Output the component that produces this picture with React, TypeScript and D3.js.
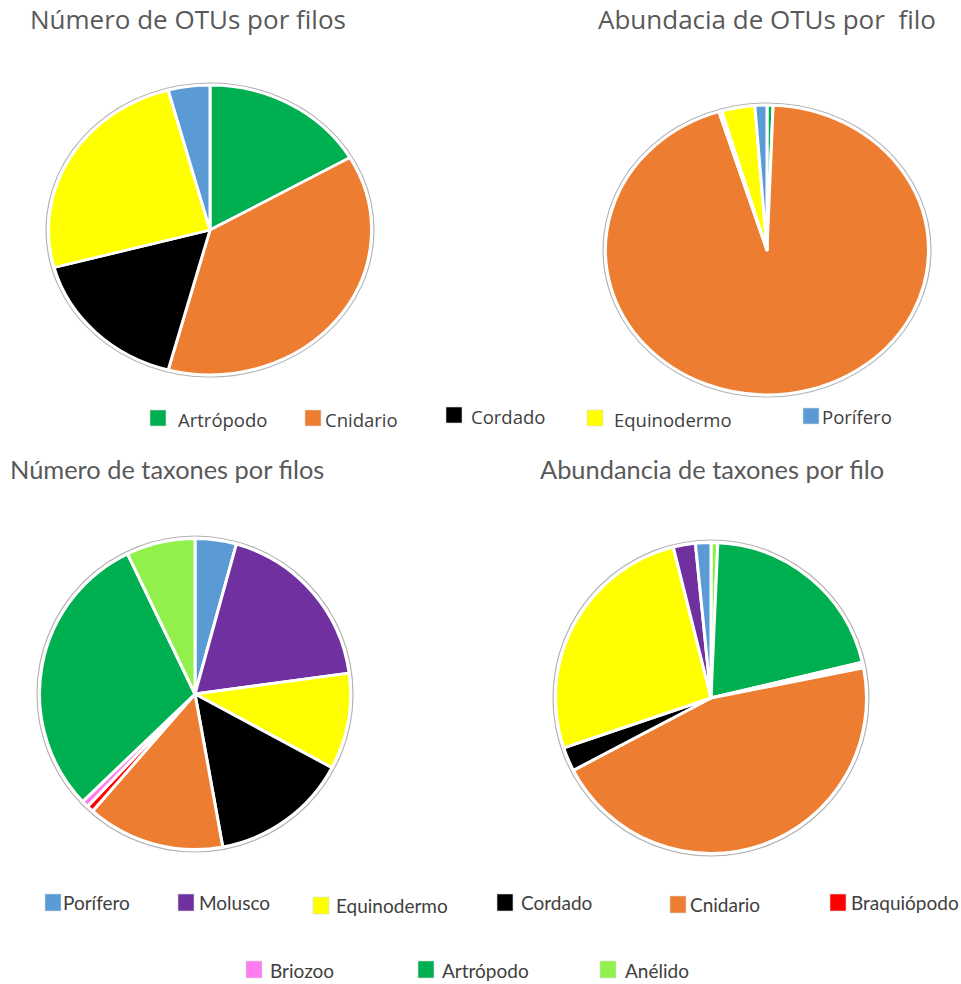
import React from "react";
import * as d3 from "d3";

// ---- data ----
const otuCategories = ["Artrópodo", "Cnidario", "Cordado", "Equinodermo", "Porífero"];
const otuCountValues = [4, 9, 4, 6, 1];
const otuAbundanceValues = [0.6, 94.4, 0.3, 3.3, 1.2];

const taxaCountCategories = ["Porífero", "Molusco", "Equinodermo", "Cordado", "Cnidario", "Braquiópodo", "Briozoo", "Artrópodo", "Anélido"];
const taxaCountValues = [6, 26, 14, 20, 20, 1, 1, 42, 10];

const taxaAbundanceCategories = ["Anélido", "Artrópodo", "Braquiópodo", "Briozoo", "Cnidario", "Cordado", "Equinodermo", "Molusco", "Porífero"];
const taxaAbundanceValues = [0.7, 20.6, 0.3, 0.3, 45.4, 2.5, 26.3, 2.3, 1.6];

const topLegendCategories = ["Artrópodo", "Cnidario", "Cordado", "Equinodermo", "Porífero"];
const bottomLegendCategories = ["Porífero", "Molusco", "Equinodermo", "Cordado", "Cnidario", "Braquiópodo", "Briozoo", "Artrópodo", "Anélido"];

const titles = [
  "Número de OTUs por filos",
  "Abundacia de OTUs por\u00a0 filo",
  "Número de taxones por filos",
  "Abundancia de taxones por filo",
];

const phylumColors: Record<string, string> = {
  "Artrópodo": "#00B050",
  "Cnidario": "#ED7D31",
  "Cordado": "#000000",
  "Equinodermo": "#FFFF00",
  "Porífero": "#5B9BD5",
  "Molusco": "#7030A0",
  "Braquiópodo": "#FF0000",
  "Briozoo": "#FF7BF0",
  "Anélido": "#92F04C",
};

// ---- layout ----
const W = 961;
const H = 984;

type PieSpec = { cats: string[]; vals: number[]; cx: number; cy: number; rx: number; ry: number };

const pies: PieSpec[] = [
  { cats: otuCategories, vals: otuCountValues, cx: 210, cy: 230, rx: 164, ry: 147 },
  { cats: otuCategories, vals: otuAbundanceValues, cx: 767, cy: 250, rx: 164, ry: 147 },
  { cats: taxaCountCategories, vals: taxaCountValues, cx: 195, cy: 694, rx: 158, ry: 158 },
  { cats: taxaAbundanceCategories, vals: taxaAbundanceValues, cx: 711, cy: 698, rx: 158, ry: 158 },
];

const titlePos = [
  { x: 30, y: 29, size: 26, font: "Open Sans" },
  { x: 598, y: 29, size: 26, font: "Open Sans" },
  { x: 10, y: 479, size: 25.4, font: "Lato" },
  { x: 540, y: 479, size: 25.4, font: "Lato" },
];

const topLegendPos = [
  { sx: 150, sy: 410, tx: 178, ty: 427 },
  { sx: 305, sy: 410, tx: 325, ty: 427 },
  { sx: 446, sy: 407, tx: 471, ty: 424 },
  { sx: 587, sy: 410, tx: 614, ty: 427 },
  { sx: 803, sy: 408, tx: 822, ty: 424 },
];

const bottomLegendPos = [
  { sx: 45, sy: 894, tx: 63, ty: 910 },
  { sx: 178, sy: 894, tx: 199, ty: 910 },
  { sx: 313, sy: 897, tx: 336, ty: 913 },
  { sx: 497, sy: 894, tx: 521, ty: 910 },
  { sx: 670, sy: 896, tx: 690, ty: 912 },
  { sx: 830, sy: 894, tx: 851, ty: 910 },
  { sx: 246, sy: 961, tx: 270, ty: 978 },
  { sx: 418, sy: 961, tx: 442, ty: 978 },
  { sx: 600, sy: 961, tx: 625, ty: 978 },
];

function Pie({ spec }: { spec: PieSpec }) {
  const data = spec.cats.map((c, i) => ({ cat: c, value: spec.vals[i] }));
  const arcs = d3.pie<{ cat: string; value: number }>().sort(null).value((d) => d.value)(data);
  const r = spec.rx;
  const arcGen = d3.arc<d3.PieArcDatum<{ cat: string; value: number }>>().innerRadius(0).outerRadius(r - 2.5);
  const sy = spec.ry / spec.rx;
  return (
    <g transform={`translate(${spec.cx},${spec.cy}) scale(1,${sy})`}>
      <circle r={r} fill="#fff" stroke="#b4b4b4" strokeWidth={1.2} />
      {arcs.map((a, i) => (
        <path key={i} d={arcGen(a) || ""} fill={phylumColors[a.data.cat]} stroke="#fff" strokeWidth={3} strokeLinejoin="round" />
      ))}
    </g>
  );
}

export default function App() {
  return (
    <svg width={W} height={H} style={{ position: "absolute", left: 0, top: 0, background: "#fff" }}>
      <rect width={W} height={H} fill="#fff" />
      {titles.map((t, i) => (
        <text key={i} x={titlePos[i].x} y={titlePos[i].y} fontFamily={titlePos[i].font} fontSize={titlePos[i].size} fill="#595959" style={{ whiteSpace: "pre" }}>
          {t}
        </text>
      ))}
      {pies.map((p, i) => (
        <Pie key={i} spec={p} />
      ))}
      {topLegendCategories.map((c, i) => (
        <g key={c}>
          <rect x={topLegendPos[i].sx} y={topLegendPos[i].sy} width={16} height={16} fill={phylumColors[c]} stroke="#d9d9d9" strokeWidth={0.6} />
          <text x={topLegendPos[i].tx} y={topLegendPos[i].ty} fontFamily="Open Sans" fontSize={18.5} fill="#404040">
            {c}
          </text>
        </g>
      ))}
      {bottomLegendCategories.map((c, i) => (
        <g key={c}>
          <rect x={bottomLegendPos[i].sx} y={bottomLegendPos[i].sy} width={16} height={17} fill={phylumColors[c]} stroke="#d9d9d9" strokeWidth={0.6} />
          <text x={bottomLegendPos[i].tx} y={bottomLegendPos[i].ty} fontFamily="Lato" fontSize={19} fill="#404040">
            {c}
          </text>
        </g>
      ))}
    </svg>
  );
}
